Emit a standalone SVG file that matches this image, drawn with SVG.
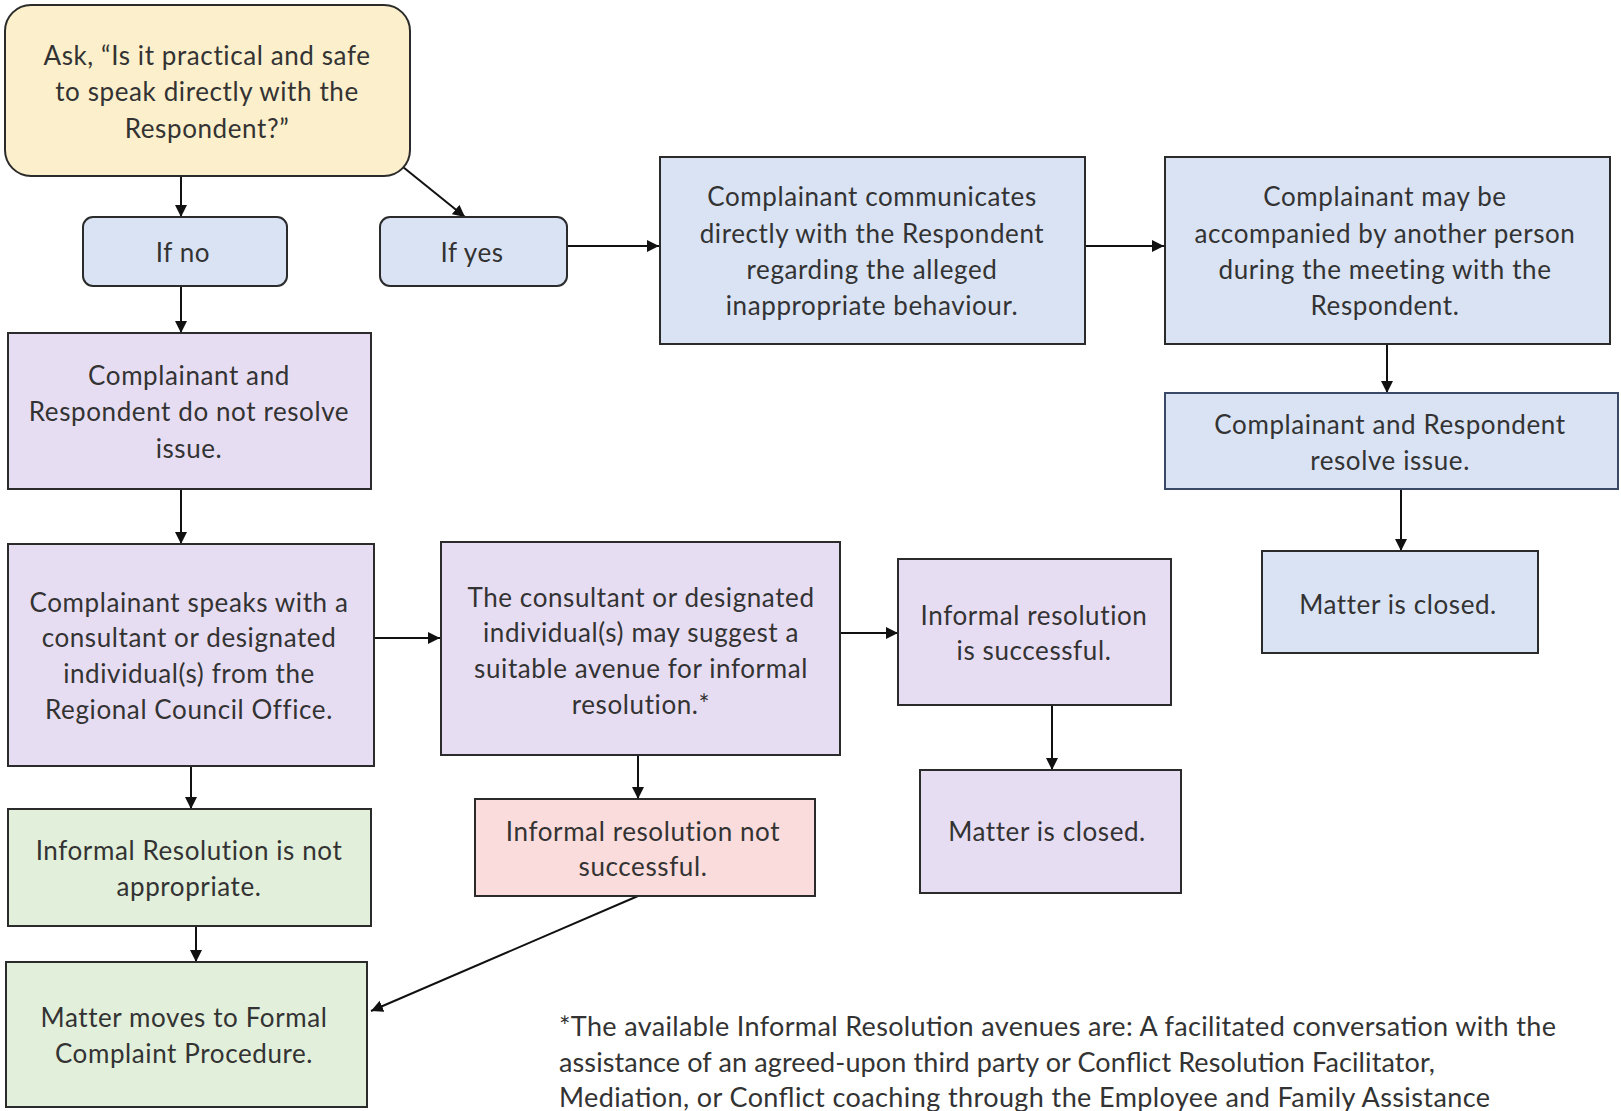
<svg xmlns="http://www.w3.org/2000/svg" width="1621" height="1111" viewBox="0 0 1621 1111">
<defs>
<style>
.box{stroke:#2b2b2b;stroke-width:2}
.yel{fill:#FCEFCB}
.blu{fill:#DAE3F3}
.pur{fill:#E7DDF2}
.pnk{fill:#FBDCDC}
.grn{fill:#E2EFDA}
text{font-family:Lato,"Liberation Sans",sans-serif;font-size:26px;letter-spacing:0.6px;fill:#333;text-anchor:middle;dominant-baseline:central}
.note{text-anchor:start;font-size:27px;letter-spacing:0}
.con{stroke:#111;stroke-width:2;fill:none;marker-end:url(#ah)}
</style>
<marker id="ah" viewBox="0 0 10 10" refX="10" refY="5" markerWidth="6" markerHeight="6" markerUnits="strokeWidth" orient="auto">
<path d="M0,0 L10,5 L0,10 z" fill="#111"/>
</marker>
</defs>
<rect width="1621" height="1111" fill="#fff"/>
<g id="connectors">
<line class="con" x1="181" y1="176" x2="181" y2="217"/>
<line class="con" x1="403" y1="167" x2="465" y2="217"/>
<line class="con" x1="181" y1="276" x2="181" y2="333"/>
<line class="con" x1="567" y1="246" x2="659" y2="246"/>
<line class="con" x1="1085" y1="246" x2="1164" y2="246"/>
<line class="con" x1="1387" y1="344" x2="1387" y2="393"/>
<line class="con" x1="1401" y1="489" x2="1401" y2="551"/>
<line class="con" x1="181" y1="489" x2="181" y2="544"/>
<line class="con" x1="374" y1="638" x2="440" y2="638"/>
<line class="con" x1="840" y1="633" x2="898" y2="633"/>
<line class="con" x1="1052" y1="705" x2="1052" y2="770"/>
<line class="con" x1="638" y1="738" x2="638" y2="799"/>
<line class="con" x1="191" y1="766" x2="191" y2="809"/>
<line class="con" x1="196" y1="916" x2="196" y2="962"/>
<line class="con" x1="638" y1="896" x2="371" y2="1011"/>
</g>
<g id="n-ask"><rect class="box yel" x="5" y="5" width="405" height="171" rx="26"/>
<text x="207" y="55">Ask, “Is it practical and safe</text>
<text x="207" y="91">to speak directly with the</text>
<text x="207" y="128">Respondent?”</text></g>
<g id="n-ifno"><rect class="box blu" x="83" y="217" width="204" height="69" rx="10"/>
<text x="183" y="252">If no</text></g>
<g id="n-ifyes"><rect class="box blu" x="380" y="217" width="187" height="69" rx="10"/>
<text x="472" y="252">If yes</text></g>
<g id="n-comm"><rect class="box blu" x="660" y="157" width="425" height="187"/>
<text x="872" y="196">Complainant communicates</text>
<text x="872" y="233">directly with the Respondent</text>
<text x="872" y="269">regarding the alleged</text>
<text x="872" y="305">inappropriate behaviour.</text></g>
<g id="n-accomp"><rect class="box blu" x="1165" y="157" width="445" height="187"/>
<text x="1385" y="196">Complainant may be</text>
<text x="1385" y="233">accompanied by another person</text>
<text x="1385" y="269">during the meeting with the</text>
<text x="1385" y="305">Respondent.</text></g>
<g id="n-resolve"><rect class="box blu" x="1165" y="393" width="453" height="96" style="stroke:#3a4a66"/>
<text x="1390" y="424">Complainant and Respondent</text>
<text x="1390" y="460">resolve issue.</text></g>
<g id="n-closed1"><rect class="box blu" x="1262" y="551" width="276" height="102"/>
<text x="1398" y="604">Matter is closed.</text></g>
<g id="n-notresolve"><rect class="box pur" x="8" y="333" width="363" height="156"/>
<text x="189" y="375">Complainant and</text>
<text x="189" y="411">Respondent do not resolve</text>
<text x="189" y="448">issue.</text></g>
<g id="n-speaks"><rect class="box pur" x="8" y="544" width="366" height="222"/>
<text x="189" y="602">Complainant speaks with a</text>
<text x="189" y="637">consultant or designated</text>
<text x="189" y="673">individual(s) from the</text>
<text x="189" y="709">Regional Council Office.</text></g>
<g id="n-suggest"><rect class="box pur" x="441" y="542" width="399" height="213"/>
<text x="641" y="597">The consultant or designated</text>
<text x="641" y="632">individual(s) may suggest a</text>
<text x="641" y="668">suitable avenue for informal</text>
<text x="641" y="704">resolution.*</text></g>
<g id="n-success"><rect class="box pur" x="898" y="559" width="273" height="146"/>
<text x="1034" y="615">Informal resolution</text>
<text x="1034" y="650">is successful.</text></g>
<g id="n-closed2"><rect class="box pur" x="920" y="770" width="261" height="123"/>
<text x="1047" y="831">Matter is closed.</text></g>
<g id="n-notsuccess"><rect class="box pnk" x="475" y="799" width="340" height="97"/>
<text x="643" y="831">Informal resolution not</text>
<text x="643" y="866">successful.</text></g>
<g id="n-notappr"><rect class="box grn" x="8" y="809" width="363" height="117"/>
<text x="189" y="850">Informal Resolution is not</text>
<text x="189" y="886">appropriate.</text></g>
<g id="n-formal"><rect class="box grn" x="6" y="962" width="361" height="145"/>
<text x="184" y="1017">Matter moves to Formal</text>
<text x="184" y="1053">Complaint Procedure.</text></g>
<g id="footnote">
<text class="note" x="559" y="1025" textLength="997" lengthAdjust="spacing">*The available Informal Resolution avenues are: A facilitated conversation with the</text>
<text class="note" x="559" y="1061" textLength="876" lengthAdjust="spacing">assistance of an agreed-upon third party or Conflict Resolution Facilitator,</text>
<text class="note" x="559" y="1096" textLength="931" lengthAdjust="spacing">Mediation, or Conflict coaching through the Employee and Family Assistance</text>
</g>
</svg>
